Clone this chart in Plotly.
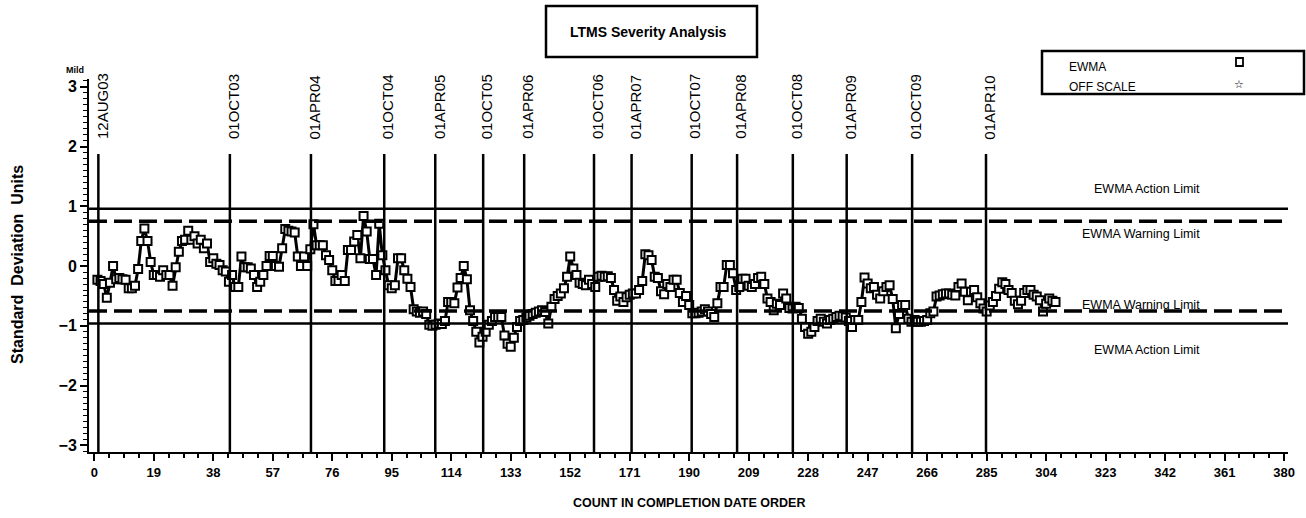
import plotly.graph_objects as go

# ---------------- data ----------------
counts = list(range(1, 308))
ewma = [
    -0.23, -0.25, -0.30, -0.53, -0.28, 0.00, -0.22, -0.20, -0.22, -0.23,
    -0.37, -0.37, -0.33, -0.05, 0.42, 0.63, 0.42, 0.07, -0.15, -0.15,
    -0.18, -0.07, -0.15, -0.15, -0.33, -0.02, 0.24, 0.42, 0.44, 0.59,
    0.44, 0.50, 0.38, 0.44, 0.30, 0.38, 0.07, 0.13, 0.04, 0.02,
    -0.07, -0.09, -0.26, -0.15, -0.35, -0.35, 0.16, -0.02, -0.02, -0.04,
    -0.15, -0.35, -0.26, -0.15, 0.00, 0.17, 0.17, 0.00, -0.01, 0.30,
    0.62, 0.59, 0.58, 0.56, 0.16, 0.00, 0.16, 0.00, 0.28, 0.70,
    0.35, 0.35, 0.35, 0.18, 0.10, -0.07, -0.25, -0.25, -0.15, -0.25,
    0.27, 0.27, 0.41, 0.52, 0.13, 0.84, 0.58, 0.12, 0.12, -0.15,
    0.71, 0.18, -0.07, -0.32, -0.37, -0.32, 0.13, 0.13, -0.07, -0.21,
    -0.35, -0.72, -0.76, -0.78, -0.76, -0.80, -0.98, -1.00, -0.98, -0.96,
    -0.97, -0.92, -0.60, -0.60, -0.62, -0.36, -0.20, 0.00, -0.22, -0.74,
    -0.92, -1.10, -1.28, -1.18, -1.10, -0.98, -0.92, -0.85, -0.85, -0.85,
    -1.16, -1.30, -1.35, -1.20, -1.02, -0.92, -0.90, -0.86, -0.83, -0.80,
    -0.78, -0.76, -0.74, -0.77, -0.96, -0.68, -0.55, -0.50, -0.46, -0.37,
    -0.18, 0.16, -0.04, -0.15, -0.28, -0.30, -0.32, -0.23, -0.30, -0.35,
    -0.18, -0.16, -0.18, -0.17, -0.20, -0.40, -0.58, -0.51, -0.60, -0.52,
    -0.48, -0.46, -0.46, -0.40, -0.25, 0.20, 0.18, 0.10, -0.18, -0.20,
    -0.42, -0.47, -0.30, -0.35, -0.23, -0.23, -0.45, -0.60, -0.50, -0.65,
    -0.79, -0.79, -0.78, -0.76, -0.72, -0.76, -0.80, -0.85, -0.62, -0.35,
    -0.35, 0.02, 0.02, -0.12, -0.40, -0.35, -0.21, -0.21, -0.33, -0.35,
    -0.30, -0.20, -0.18, -0.30, -0.54, -0.60, -0.74, -0.63, -0.65, -0.46,
    -0.54, -0.70, -0.71, -0.68, -0.70, -0.88, -1.02, -1.13, -1.10, -1.02,
    -0.92, -0.88, -0.93, -0.96, -0.90, -0.88, -0.85, -0.83, -0.84, -0.86,
    -0.92, -1.02, -0.90, -0.90, -0.60, -0.19, -0.29, -0.37, -0.35, -0.48,
    -0.54, -0.42, -0.35, -0.32, -0.55, -1.04, -0.80, -0.65, -0.65, -0.88,
    -0.93, -0.90, -0.93, -0.93, -0.92, -0.90, -0.79, -0.76, -0.51, -0.49,
    -0.47, -0.46, -0.46, -0.48, -0.49, -0.35, -0.29, -0.43, -0.57, -0.43,
    -0.40, -0.52, -0.62, -0.71, -0.76, -0.66, -0.60, -0.50, -0.38, -0.27,
    -0.30, -0.40, -0.45, -0.58, -0.64, -0.58, -0.45, -0.40, -0.40, -0.48,
    -0.51, -0.57, -0.76, -0.63, -0.54, -0.58, -0.60,
]

date_positions = [1.3, 43.3, 69.2, 92.6, 108.9, 124.2, 137.3, 159.6,
                  171.6, 190.8, 205.3, 223.1, 240.3, 261.2, 284.8]
date_labels = ["12AUG03", "01OCT03", "01APR04", "01OCT04", "01APR05",
               "01OCT05", "01APR06", "01OCT06", "01APR07", "01OCT07",
               "01APR08", "01OCT08", "01APR09", "01OCT09", "01APR10"]

action_limit = 0.96
warning_limit = 0.75

x_ticks = list(range(0, 381, 19))
y_ticks = [-3, -2, -1, 0, 1, 2, 3]

# ---------------- layout geometry ----------------
W, H = 1306, 518
ML, MR, MT, MB = 89, 18, 79, 66
PW = W - ML - MR
PH = H - MT - MB
X_RANGE = [-1.69, 381.25]
Y_RANGE = [-3.11, 3.13]


def px(xp):
    return (xp - ML) / PW


def py(yp):
    return (H - MB - yp) / PH


SANS = "Liberation Sans, Arial, sans-serif"

fig = go.Figure()

fig.add_trace(go.Scatter(
    x=counts, y=ewma, mode="lines+markers",
    line=dict(color="black", width=3),
    marker=dict(symbol="square", size=8, color="white",
                line=dict(color="black", width=2)),
    showlegend=False, hoverinfo="x+y",
))

shapes = []
annotations = []

# control limits
for v in (action_limit, -action_limit):
    shapes.append(dict(type="line", xref="paper", yref="y", x0=0, x1=1, y0=v, y1=v,
                       line=dict(color="black", width=2.5)))
for v in (warning_limit, -warning_limit):
    shapes.append(dict(type="line", xref="paper", yref="y", x0=0, x1=1, y0=v, y1=v,
                       line=dict(color="black", width=3.5, dash="18px,7px")))

# date reference lines and labels
for pos, lab in zip(date_positions, date_labels):
    shapes.append(dict(type="line", xref="x", yref="y", x0=pos, x1=pos,
                       y0=Y_RANGE[0], y1=1.876,
                       line=dict(color="black", width=2.5)))
    annotations.append(dict(x=pos + 1.1, y=2.09, xref="x", yref="y", text=lab,
                            textangle=-90, showarrow=False, xanchor="center",
                            yanchor="bottom", font=dict(family=SANS, size=15, color="black")))

# limit labels
for txt, xp, yp in [("EWMA Action Limit", 1146.7, 189),
                    ("EWMA Warning Limit", 1140.5, 234),
                    ("EWMA Warning Limit", 1140.8, 305),
                    ("EWMA Action Limit", 1147, 350)]:
    annotations.append(dict(x=px(xp), y=py(yp), xref="paper", yref="paper", text=txt,
                            showarrow=False, xanchor="center", yanchor="middle",
                            font=dict(family=SANS, size=12.5, color="black")))

# title box
shapes.append(dict(type="rect", xref="paper", yref="paper",
                   x0=px(546), x1=px(757), y0=py(57), y1=py(6),
                   line=dict(color="black", width=2.5)))
annotations.append(dict(x=px(648), y=py(32), xref="paper", yref="paper",
                        text="LTMS Severity Analysis", showarrow=False,
                        xanchor="center", yanchor="middle",
                        font=dict(family=SANS, size=14, color="black", weight="bold")))

# legend box
shapes.append(dict(type="rect", xref="paper", yref="paper",
                   x0=px(1042), x1=px(1304), y0=py(94), y1=py(51),
                   line=dict(color="black", width=2.5)))
annotations.append(dict(x=px(1067), y=py(67), xref="paper", yref="paper", text="EWMA",
                        showarrow=False, xanchor="left", yanchor="middle",
                        font=dict(family=SANS, size=12, color="black")))
annotations.append(dict(x=px(1067), y=py(87), xref="paper", yref="paper", text="OFF SCALE",
                        showarrow=False, xanchor="left", yanchor="middle",
                        font=dict(family=SANS, size=12, color="black")))
shapes.append(dict(type="rect", xref="paper", yref="paper",
                   x0=px(1236), x1=px(1243), y0=py(66), y1=py(58),
                   line=dict(color="black", width=1.8), fillcolor="white"))
annotations.append(dict(x=px(1239), y=py(84), xref="paper", yref="paper", text="☆",
                        showarrow=False, xanchor="center", yanchor="middle",
                        font=dict(family="DejaVu Sans, sans-serif", size=11, color="black")))

# axis titles and labels
annotations.append(dict(x=px(17), y=py(265), xref="paper", yref="paper",
                        text="Standard\u00a0\u00a0Deviation\u00a0\u00a0Units", textangle=-90,
                        showarrow=False, xanchor="center", yanchor="middle",
                        font=dict(family=SANS, size=16, color="black", weight="bold")))
annotations.append(dict(x=px(689), y=py(503), xref="paper", yref="paper",
                        text="COUNT IN COMPLETION DATE ORDER", showarrow=False,
                        xanchor="center", yanchor="middle",
                        font=dict(family=SANS, size=12.5, color="black", weight="bold")))
annotations.append(dict(x=px(75), y=py(70), xref="paper", yref="paper", text="Mild",
                        showarrow=False, xanchor="center", yanchor="middle",
                        font=dict(family=SANS, size=9, color="black", weight="bold")))

fig.update_layout(
    width=W, height=H,
    margin=dict(l=ML, r=MR, t=MT, b=MB, pad=0),
    paper_bgcolor="white", plot_bgcolor="white",
    showlegend=False,
    shapes=shapes, annotations=annotations,
    xaxis=dict(range=X_RANGE, tickmode="array", tickvals=x_ticks,
               ticktext=[str(t) for t in x_ticks],
               showgrid=False, zeroline=False, showline=True, linecolor="black",
               linewidth=2, ticks="outside", ticklen=7, tickwidth=2, tickcolor="black",
               tickfont=dict(family=SANS, size=13, color="black", weight="bold"),
               minor=dict(tick0=0, dtick=4.75, ticks="outside", ticklen=4,
                          tickwidth=1.5, tickcolor="black", showgrid=False)),
    yaxis=dict(range=Y_RANGE, tickmode="array", tickvals=y_ticks,
               showgrid=False, zeroline=False, showline=True, linecolor="black",
               linewidth=2, ticks="outside", ticklen=7, tickwidth=2, tickcolor="black",
               tickfont=dict(family=SANS, size=16, color="black", weight="bold"),
               minor=dict(tick0=0, dtick=0.1, ticks="outside", ticklen=4,
                          tickwidth=1.2, tickcolor="black", showgrid=False)),
)

fig.write_html("out.html", config={"displayModeBar": False},
               post_script="document.body.style.margin='0px';")
